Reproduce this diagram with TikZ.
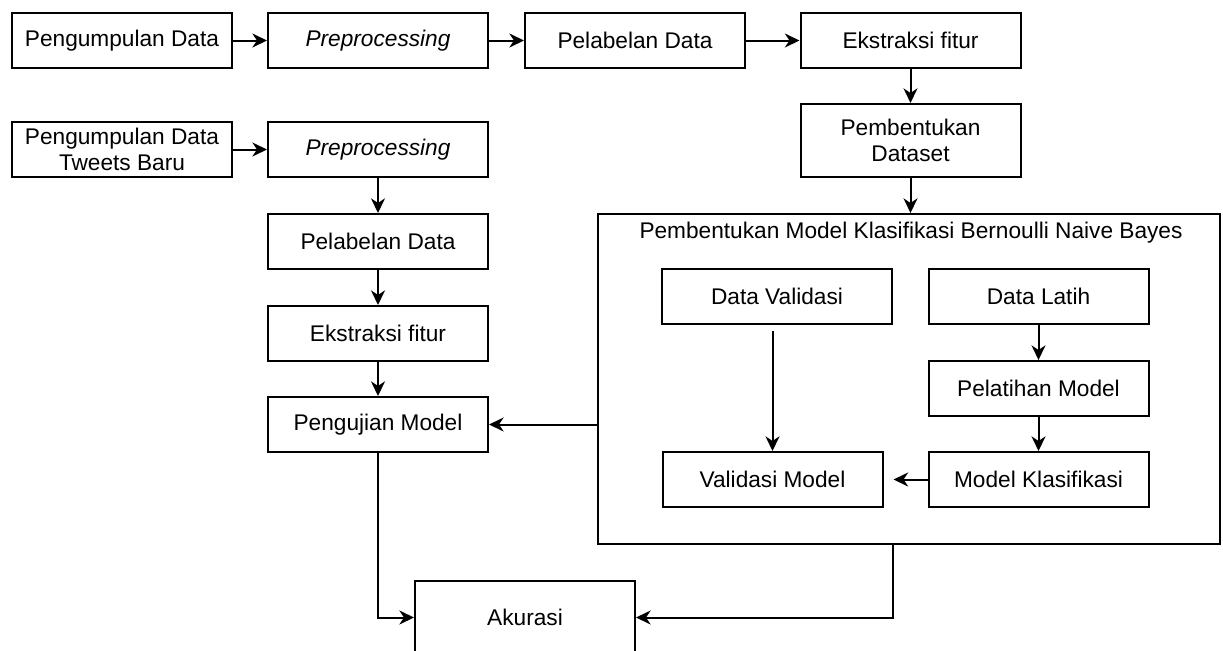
\documentclass[tikz,border=0pt]{standalone}
\usepackage{fontspec}
\setmainfont{Liberation Sans}
\usetikzlibrary{arrows.meta}

\tikzset{
  kotak/.style={draw, line width=1.5pt, minimum width=165pt, minimum height=41.25pt,
    inner sep=0pt, align=center},
  tinggi/.style={minimum height=54.75pt},
  panah/.style={-{Stealth[length=11pt,width=10.5pt,inset=3.5pt]}, line width=1.5pt},
}

\begin{document}
\begin{tikzpicture}[x=0.75pt,y=-0.75pt,font=\fontsize{17}{20}\selectfont]
\useasboundingbox (0,0) rectangle (1223,650);

% Baris atas: data latih
\node[kotak] (kumpul) at (122,40.5) {Pengumpulan Data};
\node[kotak] (prepro) at (378,40.5) {\textit{Preprocessing}};
\node[kotak] (label) at (635,40.5) {Pelabelan Data};
\node[kotak] (fitur) at (910.5,40.5) {Ekstraksi fitur};
\node[kotak,tinggi] (dataset) at (910.5,140.5) {Pembentukan\\Dataset};

% Kolom kiri: data uji (tweets baru)
\node[kotak] (kumpulbaru) at (122,149.5) {Pengumpulan Data\\Tweets Baru};
\node[kotak] (preprobaru) at (378,149.5) {\textit{Preprocessing}};
\node[kotak] (labelbaru) at (378,241.5) {Pelabelan Data};
\node[kotak] (fiturbaru) at (378,333.5) {Ekstraksi fitur};
\node[kotak] (uji) at (378,424.5) {Pengujian Model};
\node[kotak,tinggi] (akurasi) at (525,617.5) {Akurasi};

% Kotak besar model klasifikasi
\node[kotak, minimum width=466.5pt, minimum height=247.5pt] (model) at (909,379) {};
\node (judul) at (911,233) {Pembentukan Model Klasifikasi Bernoulli Naive Bayes};
\node[kotak, minimum width=172.5pt] (validasi) at (777,296.5) {Data Validasi};
\node[kotak] (latih) at (1038.5,296.5) {Data Latih};
\node[kotak] (pelatihan) at (1038.5,388.5) {Pelatihan Model};
\node[kotak] (valmodel) at (772.5,479.5) {Validasi Model};
\node[kotak] (klasifikasi) at (1038.5,479.5) {Model Klasifikasi};

% Panah
\draw[panah] (kumpul) -- (prepro);
\draw[panah] (prepro) -- (label);
\draw[panah] (label) -- (fitur);
\draw[panah] (fitur) -- (dataset);
\draw[panah] (dataset) -- (dataset |- model.north);

\draw[panah] (kumpulbaru) -- (preprobaru);
\draw[panah] (preprobaru) -- (labelbaru);
\draw[panah] (labelbaru) -- (fiturbaru);
\draw[panah] (fiturbaru) -- (uji);

\draw[panah] (latih) -- (pelatihan);
\draw[panah] (pelatihan) -- (klasifikasi);
\draw[panah, shorten >=7.5pt] (klasifikasi) -- (valmodel);
\draw[panah, shorten <=4.5pt] (validasi.south -| valmodel) -- (valmodel);

\draw[panah] (model.west |- uji) -- (uji);
\draw[panah] (uji) |- (akurasi);
\draw[panah] (validasi.east |- model.south) |- (akurasi);
\end{tikzpicture}
\end{document}
